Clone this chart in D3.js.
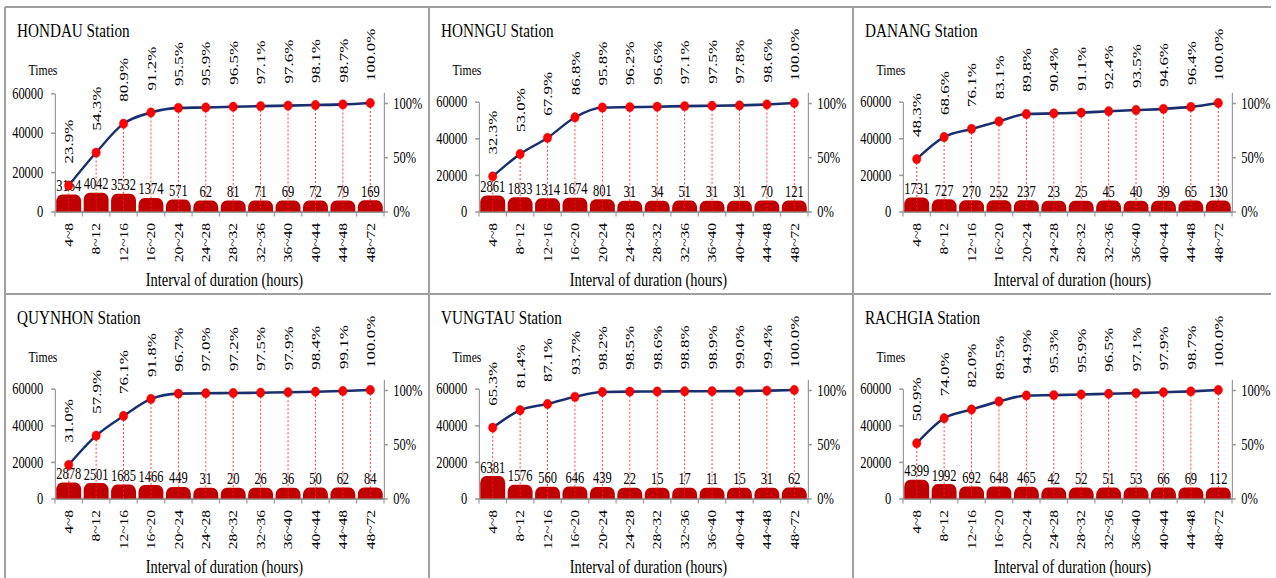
<!DOCTYPE html>
<html>
<head>
<meta charset="utf-8">
<script src="https://cdn.jsdelivr.net/npm/d3@7/dist/d3.min.js"></script>
<style>
  html, body { margin: 0; padding: 0; background: #fff; }
  svg { display: block; }
  text { font-family: "Liberation Serif", "Times New Roman", serif; fill: #000; }
</style>
</head>
<body>
<script>
// ---------------- DATA ----------------
const categories = ["4~8","8~12","12~16","16~20","20~24","24~28","28~32","32~36","36~40","40~44","44~48","48~72"];
const stations = ["HONDAU Station","HONNGU Station","DANANG Station","QUYNHON Station","VUNGTAU Station","RACHGIA Station"];

const hondauCounts  = [3164, 4042, 3532, 1374, 571, 62, 81, 71, 69, 72, 79, 169];
const hondauPct     = [23.9, 54.3, 80.9, 91.2, 95.5, 95.9, 96.5, 97.1, 97.6, 98.1, 98.7, 100.0];
const honnguCounts  = [2861, 1833, 1314, 1674, 801, 31, 34, 51, 31, 31, 70, 121];
const honnguPct     = [32.3, 53.0, 67.9, 86.8, 95.8, 96.2, 96.6, 97.1, 97.5, 97.8, 98.6, 100.0];
const danangCounts  = [1731, 727, 270, 252, 237, 23, 25, 45, 40, 39, 65, 130];
const danangPct     = [48.3, 68.6, 76.1, 83.1, 89.8, 90.4, 91.1, 92.4, 93.5, 94.6, 96.4, 100.0];
const quynhonCounts = [2878, 2501, 1685, 1466, 449, 31, 20, 26, 36, 50, 62, 84];
const quynhonPct    = [31.0, 57.9, 76.1, 91.8, 96.7, 97.0, 97.2, 97.5, 97.9, 98.4, 99.1, 100.0];
const vungtauCounts = [6381, 1576, 560, 646, 439, 22, 15, 17, 11, 15, 31, 62];
const vungtauPct    = [65.3, 81.4, 87.1, 93.7, 98.2, 98.5, 98.6, 98.8, 98.9, 99.0, 99.4, 100.0];
const rachgiaCounts = [4399, 1992, 692, 648, 465, 42, 52, 51, 53, 66, 69, 112];
const rachgiaPct    = [50.9, 74.0, 82.0, 89.5, 94.9, 95.3, 95.9, 96.5, 97.1, 97.9, 98.7, 100.0];

const leftTicks = [0, 20000, 40000, 60000];
const rightTicks = [0, 0.5, 1];
const yLabel = "Times";
const xTitle = "Interval of duration (hours)";

const allCounts = [hondauCounts, honnguCounts, danangCounts, quynhonCounts, vungtauCounts, rachgiaCounts];
const allPct = [hondauPct, honnguPct, danangPct, quynhonPct, vungtauPct, rachgiaPct];

// ---------------- LAYOUT ----------------
const W = 1276, H = 578;
const C = 0.78;                 // horizontal compression of the original picture
const vx = s => s / C;          // screen x -> virtual x

const svg = d3.select("body").append("svg").attr("width", W).attr("height", H);

// panel borders
const border = svg.append("g").attr("stroke", "#a0a0a0").attr("stroke-width", 2).attr("fill", "none");
border.append("line").attr("x1", 5).attr("x2", 1271).attr("y1", 7).attr("y2", 7);
border.append("line").attr("x1", 5).attr("x2", 1271).attr("y1", 294).attr("y2", 294);
[5, 429, 853].forEach(x => border.append("line").attr("x1", x).attr("x2", x).attr("y1", 7).attr("y2", H));

const root = svg.append("g").attr("transform", `scale(${C},1)`);

const lefts = [5, 429, 853];
const tops = [7, 294];
const Y0 = 204.5;      // baseline (relative to panel)
const Y100 = 96;       // 100% level
const CAP = 10.8;      // rounded bevel cap height of bars

stations.forEach((name, i) => {
  const col = i % 3, row = Math.floor(i / 3);
  const g = root.append("g").attr("transform", `translate(${vx(lefts[col])},${tops[row]})`);
  const counts = allCounts[i], pct = allPct[i];
  const topY = i === 0 ? 86.3 : 94.7;

  const x = d3.scaleBand().domain(categories).range([vx(50), vx(379)]).paddingInner(0.09).paddingOuter(0.045);
  const yL = d3.scaleLinear().domain([0, 60000]).range([Y0, topY]);
  const yR = d3.scaleLinear().domain([0, 1.1]).range([Y0, Y0 - 1.1 * (Y0 - Y100)]);
  const cx = c => x(c) + x.bandwidth() / 2;

  // title
  g.append("text").attr("x", vx(12)).attr("y", 29.7).attr("font-size", 19.5).text(name);
  g.append("text").attr("x", vx(38)).attr("y", 68.5).attr("text-anchor", "middle").attr("font-size", 15).text(yLabel);

  // left axis
  const la = g.append("g").attr("transform", `translate(${vx(50)},0)`)
    .call(d3.axisLeft(yL).tickValues(leftTicks).tickFormat(d3.format("d")).tickSize(5).tickPadding(10).tickSizeOuter(0));
  // right axis
  const ra = g.append("g").attr("transform", `translate(${vx(379)},0)`)
    .call(d3.axisRight(yR).tickValues(rightTicks).tickFormat(d3.format(".0%")).tickSize(5).tickPadding(7).tickSizeOuter(0));
  [la, ra].forEach(a => {
    a.select(".domain").attr("stroke", "#999").attr("stroke-width", 1.5);
    a.selectAll(".tick line").attr("stroke", "#999").attr("stroke-width", 1.5);
    a.selectAll(".tick text").attr("font-size", 16).attr("font-family", "Liberation Serif, Times New Roman, serif").attr("fill", "#000");
  });

  // x axis
  const xa = g.append("g").attr("transform", `translate(0,${Y0})`)
    .call(d3.axisBottom(x).tickSize(0).tickSizeOuter(0).tickPadding(0));
  xa.select(".domain").attr("stroke", "#999").attr("stroke-width", 2);
  xa.selectAll(".tick text")
    .attr("font-size", 15.5).attr("font-family", "Liberation Serif, Times New Roman, serif").attr("fill", "#000")
    .attr("text-anchor", "end").attr("y", 0).attr("dy", "0.35em")
    .attr("transform", "translate(0,11.5) rotate(-90)");
  // boundary ticks
  const bounds = d3.range(categories.length + 1).map(k => x.range()[0] + k * x.step());
  xa.selectAll(".btick").data(bounds).join("line").attr("class", "btick")
    .attr("x1", d => d).attr("x2", d => d).attr("y1", 0).attr("y2", 5)
    .attr("stroke", "#999").attr("stroke-width", 1.5);

  // bars with rounded bevel tops
  const rx = vx(6), ry = 7;
  g.append("g").selectAll("path").data(categories).join("path")
    .attr("fill", "#c00000")
    .attr("d", (c, k) => {
      const x0 = x(c), w = x.bandwidth(), yt = yL(counts[k]) - CAP, yb = Y0;
      return `M${x0},${yb}V${yt + ry}A${rx},${ry} 0 0 1 ${x0 + rx},${yt}H${x0 + w - rx}A${rx},${ry} 0 0 1 ${x0 + w},${yt + ry}V${yb}Z`;
    });

  // drop lines
  g.append("g").selectAll("line").data(categories).join("line")
    .attr("x1", c => cx(c)).attr("x2", c => cx(c))
    .attr("y1", (c, k) => yR(pct[k] / 100)).attr("y2", Y0)
    .attr("stroke", "#ff2020").attr("stroke-width", 1.2).attr("stroke-dasharray", "2,2").attr("opacity", 0.9);

  // count labels
  g.append("g").selectAll("text").data(categories).join("text")
    .attr("x", c => cx(c)).attr("y", (c, k) => yL(counts[k]) - CAP - 3.5)
    .attr("text-anchor", "middle").attr("font-size", 16)
    .text((c, k) => counts[k]);

  // cumulative line
  const line = d3.line().x(c => cx(c)).y((c, k) => yR(pct[k] / 100)).curve(d3.curveMonotoneX);
  g.append("path").datum(categories).attr("d", line)
    .attr("fill", "none").attr("stroke", "#172f6e").attr("stroke-width", 2.6);

  // dots
  g.append("g").selectAll("ellipse").data(categories).join("ellipse")
    .attr("cx", c => cx(c)).attr("cy", (c, k) => yR(pct[k] / 100))
    .attr("rx", vx(4.2)).attr("ry", 4.7)
    .attr("fill", "#ff0000").attr("stroke", "#e00000").attr("stroke-width", 0.5);

  // percent labels
  g.append("g").selectAll("text").data(categories).join("text")
    .attr("transform", (c, k) => `translate(${cx(c)},${yR(pct[k] / 100) - 22}) rotate(-90)`)
    .attr("dy", "0.35em").attr("text-anchor", "start").attr("font-size", 17)
    .text((c, k) => pct[k].toFixed(1) + "%");

  // x axis title
  g.append("text").attr("x", vx(219.5)).attr("y", 279).attr("text-anchor", "middle")
    .attr("font-size", 18.5).text(xTitle);
});
</script>
</body>
</html>
